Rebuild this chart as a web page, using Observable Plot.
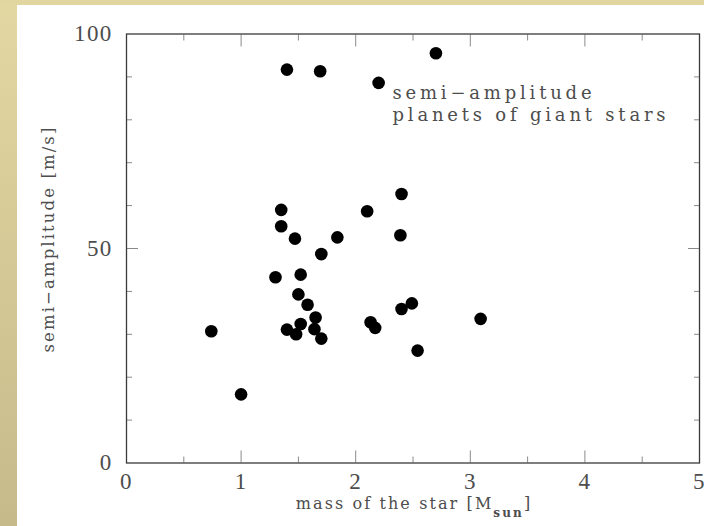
<!DOCTYPE html>
<html>
<head>
<meta charset="utf-8">
<script src="https://cdn.jsdelivr.net/npm/d3@7"></script>
<script src="https://cdn.jsdelivr.net/npm/@observablehq/plot@0.6"></script>
<style>
  html, body { margin: 0; padding: 0; }
  body { width: 704px; height: 526px; position: relative; overflow: hidden; background: #fff; }
  #leftband { position: absolute; left: 0; top: 0; width: 17px; height: 526px; background: linear-gradient(#e3d8a2, #c6ba8b); }
  #topband { position: absolute; left: 0; top: 0; width: 704px; height: 5px; background: #e2d6a0; }
  #chart { position: absolute; left: 0; top: 0; }
</style>
</head>
<body>
<div id="leftband"></div>
<div id="topband"></div>
<div id="chart"></div>
<script>
// Stellar mass [M_sun] and RV semi-amplitude [m/s] of planets around giant stars
const starMass = [1.40, 1.69, 2.20, 2.70, 2.40, 1.35, 2.10, 1.35, 1.47, 1.84,
                  2.39, 1.70, 1.30, 1.52, 1.50, 1.58, 2.49, 2.40, 3.09, 1.65,
                  1.52, 1.40, 1.64, 1.48, 1.70, 2.13, 2.17, 0.74, 2.54, 1.00];
const semiAmplitude = [91.7, 91.3, 88.6, 95.5, 62.7, 59.0, 58.7, 55.2, 52.3, 52.6,
                       53.1, 48.7, 43.3, 43.9, 39.3, 36.9, 37.2, 35.9, 33.6, 33.9,
                       32.4, 31.1, 31.2, 30.0, 29.0, 32.8, 31.5, 30.7, 26.2, 16.0];

const xTickLabels = [0, 1, 2, 3, 4, 5];
const yTickLabels = [0, 50, 100];
const xMajorTicks = [1, 2, 3, 4];
const xMinorTicks = [0.5, 1.5, 2.5, 3.5, 4.5];
const yMajorTicks = [50];
const yMinorTicks = [10, 20, 30, 40, 60, 70, 80, 90];

const xLabel = "mass of the star [Msun]";
const yLabel = "semi\u2212amplitude [m/s]";
const legendLines = ["semi\u2212amplitude", "planets of giant stars"];

const points = starMass.map((m, i) => ({mass: m, k: semiAmplitude[i]}));

const tickStroke = "#8a8a8a";
const textColor = "#4d4d4d";
const tickFont = "'Liberation Serif', serif";
const labelFont = "'DejaVu Serif', serif";

function ticks(axis, values, anchor, size) {
  const f = axis === "x" ? Plot.axisX : Plot.axisY;
  return f(values, {anchor, tickSize: -size, tickFormat: () => "", stroke: tickStroke, strokeWidth: 1, label: null});
}

const chart = Plot.plot({
  width: 704,
  height: 526,
  marginLeft: 126,
  marginRight: 5,
  marginTop: 33.5,
  marginBottom: 63.5,
  style: {background: "transparent", fontFamily: tickFont, color: textColor},
  x: {domain: [0, 5]},
  y: {domain: [0, 100]},
  marks: [
    ticks("x", xMajorTicks, "bottom", 12),
    ticks("x", xMinorTicks, "bottom", 6),
    ticks("x", xMajorTicks, "top", 12),
    ticks("x", xMinorTicks, "top", 6),
    ticks("y", yMajorTicks, "left", 12),
    ticks("y", yMinorTicks, "left", 6),
    ticks("y", yMajorTicks, "right", 12),
    ticks("y", yMinorTicks, "right", 6),
    Plot.axisX(xTickLabels, {anchor: "bottom", tickSize: 0, tickPadding: 10, fontSize: 23, fill: textColor, tickFormat: d => String(d), label: null}),
    Plot.axisY(yTickLabels, {anchor: "left", tickSize: 0, tickPadding: 14, fontSize: 23, fill: textColor, tickFormat: d => String(d), label: null}),
    Plot.frame({stroke: "#3a3a3a", strokeWidth: 1.3}),
    Plot.dot(points, {x: "mass", y: "k", r: 6.3, fill: "#000", stroke: null}),
    Plot.text([yLabel], {text: d => d, frameAnchor: "left", textAnchor: "middle", rotate: -90, dx: -78, dy: -9.5, lineAnchor: "middle", fontSize: 16.5, fontFamily: labelFont, fill: textColor}),
    Plot.text([xLabel], {text: d => d, frameAnchor: "bottom", textAnchor: "middle", dy: 35, dx: 1, lineAnchor: "top", fontSize: 16, fontFamily: labelFont, fill: textColor}),
    Plot.text([legendLines.join("\n")], {text: d => d, frameAnchor: "top-left", textAnchor: "start", lineAnchor: "top", dx: 266, dy: 50, lineHeight: 1.2, fontSize: 18, fontFamily: labelFont, fill: textColor})
  ]
});

document.getElementById("chart").appendChild(chart);

// typographic touches: wide Hershey-like letter spacing and the subscript in M_sun
chart.querySelectorAll("text").forEach(t => {
  const s = t.textContent;
  if (s === xLabel) {
    t.style.letterSpacing = "2.1px";
    t.textContent = "";
    const ns = "http://www.w3.org/2000/svg";
    const a = document.createElementNS(ns, "tspan"); a.textContent = "mass of the star [M";
    const b = document.createElementNS(ns, "tspan"); b.textContent = "sun"; b.setAttribute("dy", "8"); b.setAttribute("font-size", "12"); b.setAttribute("font-weight", "bold");
    const c = document.createElementNS(ns, "tspan"); c.textContent = "]"; c.setAttribute("dy", "-8");
    t.append(a, b, c);
  } else if (s === yLabel) {
    t.style.letterSpacing = "2.1px";
  } else if (s.startsWith(legendLines[0])) {
    t.style.letterSpacing = "3.8px";
  } else if (/^\d+$/.test(s)) {
    t.style.letterSpacing = "1.3px";
  }
});
</script>
</body>
</html>
